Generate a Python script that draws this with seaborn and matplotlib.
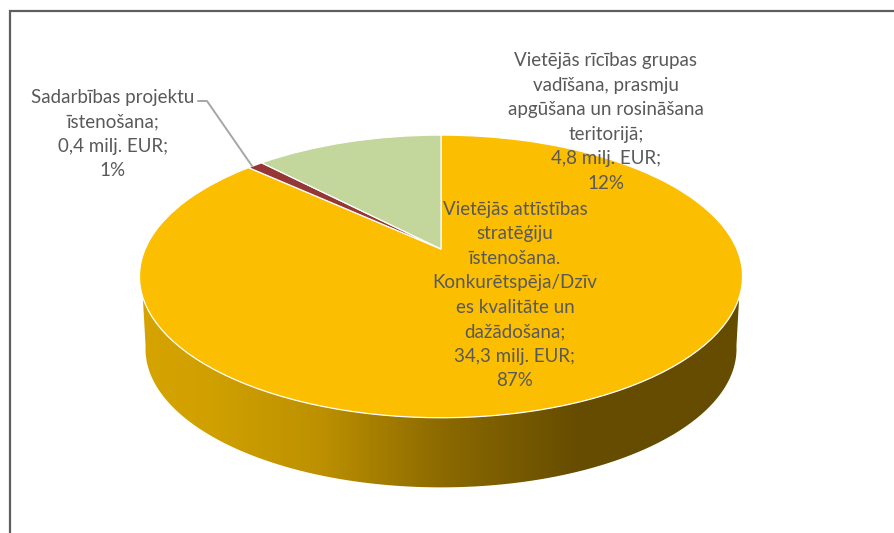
import numpy as np
import matplotlib
matplotlib.use("Agg")
import matplotlib.pyplot as plt
import seaborn as sns
from matplotlib.colors import LinearSegmentedColormap
from matplotlib.patches import Polygon
from matplotlib.transforms import Transform

# ---- data ----
values = [34.3, 0.4, 4.8]
colors = ["#FBBE00", "#953735", "#C3D69B"]
labels = [
    "Vietējās attīstības\nstratēģiju\nīstenošana.\nKonkurētspēja/Dzīv\nes kvalitāte un\ndažādošana;\n34,3 milj. EUR;\n87%",
    "Sadarbības projektu\nīstenošana;\n0,4 milj. EUR;\n1%",
    "Vietējās rīcības grupas\nvadīšana, prasmju\napgūšana un rosināšana\nteritorijā;\n4,8 milj. EUR;\n12%",
]
label_xy = [(515, 295), (113, 134), (606, 122)]
side_stops = [0.0, 0.12, 0.3, 0.5, 0.73, 1.0]
side_colors = ["#D6A400", "#D0A000", "#BC9000", "#8C6A00", "#654C00", "#654C00"]

# ---- layout (pixel space of the picture) ----
W, H = 895, 533
APEX = (441, 249)
A, B, K = 136.0, 295.8, 0.194
DROP, SHRINK = 73.0, 0.98


class Tilt(Transform):
    """Perspective of a unit-circle pie lying on a table, into pixel space."""
    input_dims = output_dims = 2
    is_affine = False
    has_inverse = False

    def __init__(self, drop=0.0, scale=1.0):
        super().__init__()
        self.drop, self.scale = drop, scale

    def transform_non_affine(self, xy):
        xy = np.asarray(xy, dtype=float)
        d = 1 + K * xy[:, 1]
        return np.column_stack([
            APEX[0] + self.scale * B * xy[:, 0] / d,
            APEX[1] + self.drop - self.scale * A * xy[:, 1] / d,
        ])


sns.set_theme(style="white")
plt.rcParams["font.family"] = ["Lato", "DejaVu Sans"]

fig = plt.figure(figsize=(W / 100, H / 100), dpi=100)
ax = fig.add_axes([0, 0, 1, 1])
palette = sns.color_palette(colors)

wedges, _ = ax.pie(values, colors=palette, startangle=90, counterclock=False,
                   wedgeprops=dict(edgecolor="white", linewidth=0.9))
top = Tilt()
for w in wedges:
    w.set_transform(top + ax.transData)
    w.set_zorder(3)

ax.set_aspect("auto")
ax.set_xlim(0, W)
ax.set_ylim(H, 0)
ax.axis("off")

# side wall of the disc with horizontal gradient
t_up = np.radians(np.linspace(180 + 19.5, 360 - 19.5, 300))
t_lo = np.radians(np.linspace(360 - 10, 180 + 10, 300))
upper = top.transform(np.column_stack([np.cos(t_up), np.sin(t_up)]))
lower = Tilt(DROP, SHRINK).transform(np.column_stack([np.cos(t_lo), np.sin(t_lo)]))
wall = Polygon(np.vstack([upper, lower]), closed=True, transform=ax.transData,
               facecolor="none", edgecolor="none")
ax.add_patch(wall)
cmap = LinearSegmentedColormap.from_list("wall", list(zip(side_stops, side_colors)))
grad = ax.imshow(np.linspace(0, 1, 512)[None, :], cmap=cmap, aspect="auto",
                 extent=(140, 743, 500, 280), zorder=2, interpolation="bilinear")
grad.set_clip_path(wall)
ax.set_xlim(0, W)
ax.set_ylim(H, 0)

# chart frame (only top and left fall inside the picture)
ax.plot([10, 10, W], [H, 11, 11], color="#5F5F5F", lw=1.6, clip_on=False,
        solid_joinstyle="miter", zorder=5)

# leader line
ax.plot([198, 207, 252], [101, 101, 166], color="#A6A6A6", lw=1.4, zorder=4)

for txt, (x, y) in zip(labels, label_xy):
    ax.text(x, y, txt, ha="center", va="center", fontsize=13.5, color="#595959",
            linespacing=1.54, zorder=6)

fig.savefig("out.png", dpi=100, facecolor="white")
